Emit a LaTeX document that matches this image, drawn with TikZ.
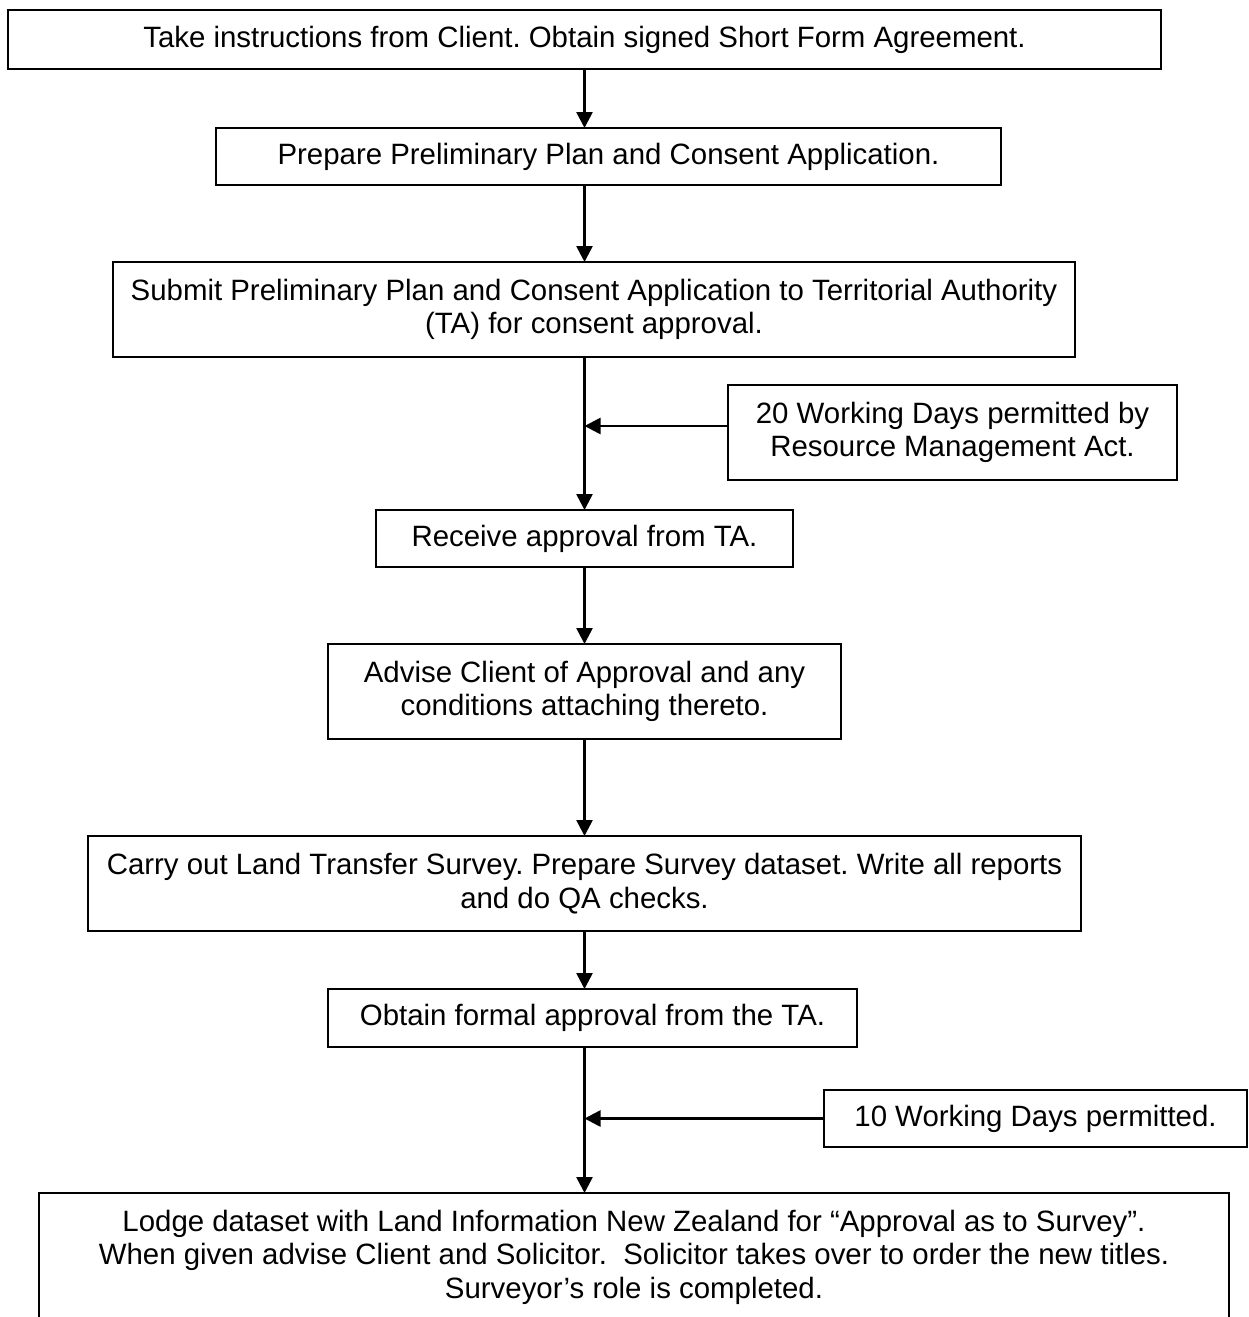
\documentclass[tikz,border=0pt]{standalone}
\usepackage{fontspec}
\setmainfont{Liberation Sans}
\usetikzlibrary{arrows.meta}
\begin{document}
\frenchspacing
\begin{tikzpicture}[x=0.5pt,y=-0.5pt,
  stepbox/.style={draw, line width=0.8pt, inner sep=0pt, outer sep=0pt,
    align=center, font=\fontsize{14.7}{16.8}\selectfont},
  flow/.style={line width=1.3pt, -{Triangle[length=8pt,width=8pt]}}]
\useasboundingbox (0,0) rectangle (1248,1317);

% main sequence of steps
\node[stepbox, minimum width=576.5pt, minimum height=29.5pt] (b1) at (584.5,39.5)
  {Take instructions from Client. Obtain signed Short Form Agreement.};
\node[stepbox, minimum width=392.5pt, minimum height=28.5pt] (b2) at (608.5,156.5)
  {Prepare Preliminary Plan and Consent Application.};
\node[stepbox, minimum width=481pt, minimum height=47.5pt] (b3) at (594,309.5)
  {Submit Preliminary Plan and Consent Application to Territorial Authority\\(TA) for consent approval.};
\node[stepbox, minimum width=208.5pt, minimum height=28.5pt] (b4) at (584.5,538.5)
  {Receive approval from TA.};
\node[stepbox, minimum width=256.5pt, minimum height=47.5pt] (b5) at (584.5,691.5)
  {Advise Client of Approval and any\\conditions attaching thereto.};
\node[stepbox, minimum width=496.5pt, minimum height=47.5pt] (b6) at (584.5,883.5)
  {Carry out Land Transfer Survey. Prepare Survey dataset. Write all reports\\and do QA checks.};
\node[stepbox, minimum width=264.5pt, minimum height=29pt] (b7) at (592.5,1018)
  {Obtain formal approval from the TA.};
\node[stepbox, minimum width=595pt, minimum height=64pt] (b8) at (634,1257)
  {Lodge dataset with Land Information New Zealand for “Approval as to Survey”.\\
   When given advise Client and Solicitor.\ \ Solicitor takes over to order the new titles.\\
   Surveyor’s role is completed.};

% time allowances
\node[stepbox, minimum width=224.5pt, minimum height=47.5pt] (s1) at (952.5,432.5)
  {20 Working Days permitted by\\Resource Management Act.};
\node[stepbox, minimum width=211.5pt, minimum height=28.5pt] (s2) at (1035.5,1118.5)
  {10 Working Days permitted.};

% connectors
\draw[flow] (b1.south) -- (b1.south |- b2.north);
\draw[flow] (b2.south -| b1.south) -- (b3.north -| b1.south);
\draw[flow] (b3.south -| b4.north) -- (b4.north);
\draw[flow] ([yshift=3.25pt]s1.west) -- ([yshift=3.25pt]s1.west -| b4.north);
\draw[flow] (b4.south) -- (b5.north);
\draw[flow] (b5.south) -- (b6.north);
\draw[flow] (b6.south) -- (b7.north -| b6.south);
\draw[flow] (b7.south -| b6.south) -- (b8.north -| b6.south);
\draw[flow] (s2.west) -- (s2.west -| b6.south);
\end{tikzpicture}
\end{document}
